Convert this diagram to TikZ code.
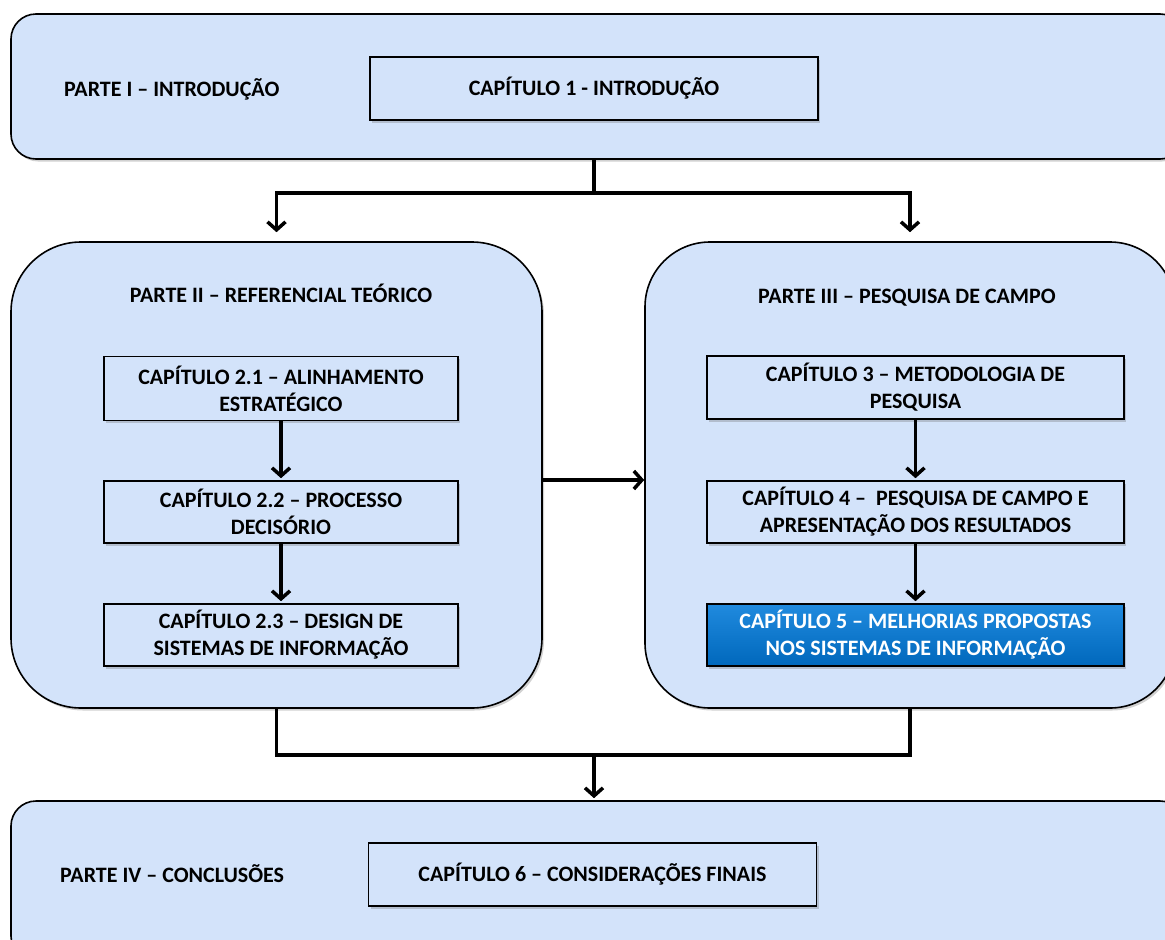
\documentclass[tikz,border=0pt]{standalone}
\usepackage{fontspec}
\setmainfont{Carlito}
\usetikzlibrary{arrows.meta,shadows}
\definecolor{partfill}{RGB}{211,227,250}
\definecolor{chapblueA}{RGB}{32,138,222}
\definecolor{chapblueB}{RGB}{0,104,188}
\begin{document}
\begin{tikzpicture}[x=1pt,y=-1pt,
  softshadow/.style={drop shadow={shadow xshift=2pt,shadow yshift=-2.5pt,opacity=0.3,fill=black!60}},
  partbox/.style={draw=black,line width=1.6pt,fill=partfill,rounded corners=#1,softshadow,inner sep=0pt},
  chapbox/.style={draw=black,line width=1.6pt,fill=partfill,softshadow,align=center,inner sep=0pt,
    font=\bfseries\fontsize{22}{27}\selectfont},
  bluebox/.style={chapbox,top color=chapblueA,bottom color=chapblueB,text=white},
  title/.style={inner sep=0pt,font=\bfseries\fontsize{22}{27}\selectfont},
  wire/.style={line width=3.5pt},
  link/.style={line width=3.5pt,-{Straight Barb[length=8pt,width=18pt,line width=3.5pt]}}]
\useasboundingbox (0,0) rectangle (1165,940);

% outer part frames
\node[partbox=25pt,minimum width=1174pt,minimum height=145pt] (top) at (598,86.5) {};
\node[partbox=70pt,minimum width=531pt,minimum height=466pt] (p2) at (276.5,475) {};
\node[partbox=65pt,minimum width=530pt,minimum height=466pt] (p3) at (910,475) {};
\node[partbox=25pt,minimum width=1174pt,minimum height=160pt] (bot) at (598,881) {};

% part titles
\node[title,anchor=base west] (t1) at (64,96) {PARTE I – INTRODUÇÃO};
\node[title,anchor=base] (t2) at (281,302) {PARTE II – REFERENCIAL TEÓRICO};
\node[title,anchor=base] (t3) at (907,303) {PARTE III – PESQUISA DE CAMPO};
\node[title,anchor=base west] (t4) at (60,882) {PARTE IV – CONCLUSÕES};

% chapter boxes
\node[chapbox,minimum width=448pt,minimum height=63pt] (c1) at (594,88.5) {CAPÍTULO 1 - INTRODUÇÃO};
\node[chapbox,minimum width=354pt,minimum height=64pt] (c21) at (281,388.5) {CAPÍTULO 2.1 – ALINHAMENTO\\ESTRATÉGICO};
\node[chapbox,minimum width=354pt,minimum height=62pt] (c22) at (281,512) {CAPÍTULO 2.2 – PROCESSO\\DECISÓRIO};
\node[chapbox,minimum width=354pt,minimum height=62pt] (c23) at (281,635) {CAPÍTULO 2.3 – DESIGN DE\\SISTEMAS DE INFORMAÇÃO};
\node[chapbox,minimum width=417pt,minimum height=63pt] (c3) at (915.5,387.5) {CAPÍTULO 3 – METODOLOGIA DE\\PESQUISA};
\node[chapbox,minimum width=417pt,minimum height=62pt] (c4) at (915.5,512) {CAPÍTULO 4 –\ \ PESQUISA DE CAMPO E\\APRESENTAÇÃO DOS RESULTADOS};
\node[bluebox,minimum width=417pt,minimum height=62pt] (c5) at (915.5,635) {CAPÍTULO 5 – MELHORIAS PROPOSTAS\\NOS SISTEMAS DE INFORMAÇÃO};
\node[chapbox,minimum width=448pt,minimum height=63pt] (c6) at (592.5,874.5) {CAPÍTULO 6 – CONSIDERAÇÕES FINAIS};

% branch from part I into parts II and III
\coordinate (split) at (594,193);
\draw[wire] (c1.center |- top.south) -- (split);
\draw[link,shorten >=9pt] (split) -| (p2.north);
\draw[link,shorten >=9pt] (split) -| (p3.north);

% part II feeds part III
\draw[link] ([yshift=-5pt]p2.east) -- ([yshift=-5pt]p3.west);

% chapter sequences
\draw[link,shorten >=2pt] (c21) -- (c22);
\draw[link,shorten >=2pt] (c22) -- (c23);
\draw[link,shorten >=2pt] (c3) -- (c4);
\draw[link,shorten >=2pt] (c4) -- (c5);

% merge of parts II and III into part IV
\coordinate (merge) at (594,755);
\draw[wire,line join=miter] (p2.south) |- (merge) -| (p3.south);
\draw[link,shorten >=2pt] (merge) -- (merge |- bot.north);
\end{tikzpicture}
\end{document}
